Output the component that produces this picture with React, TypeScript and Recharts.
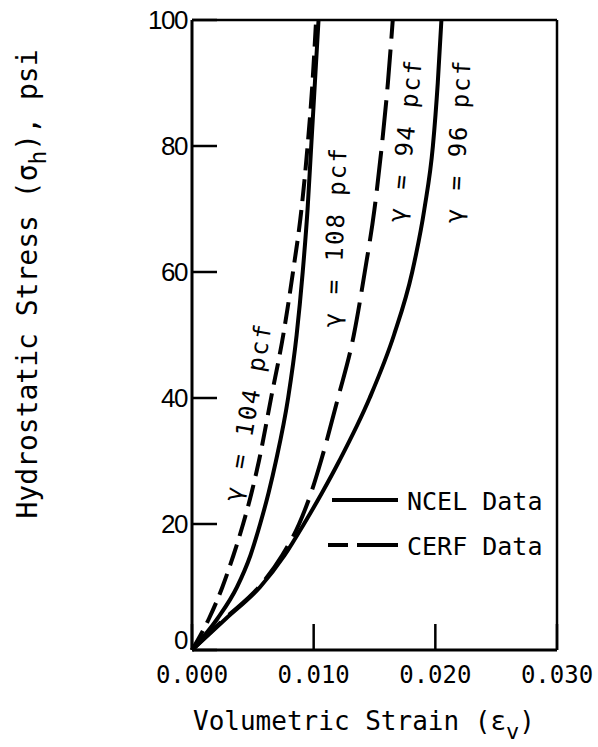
import React from "react";
import { LineChart, Line, XAxis, YAxis, ReferenceLine, ReferenceDot, Legend } from "recharts";

// ── DATA ──────────────────────────────────────────────────────
const STRESS = [0, 5, 10, 15, 20, 25, 30, 40, 50, 60, 70, 80, 90, 100]; // psi
const CERF_104 = [0, 0.0014, 0.0025, 0.0034, 0.0042, 0.0049, 0.0055, 0.0065, 0.0075, 0.0083, 0.009, 0.0095, 0.0099, 0.0102];
const NCEL_108 = [0, 0.0021, 0.0037, 0.0048, 0.0056, 0.0063, 0.0069, 0.0079, 0.0086, 0.0091, 0.0095, 0.0098, 0.0101, 0.0104];
const CERF_94 = [0, 0.0027, 0.0055, 0.0074, 0.0088, 0.0098, 0.0106, 0.012, 0.0133, 0.0142, 0.015, 0.0156, 0.0161, 0.0165];
const NCEL_96 = [0, 0.0028, 0.0056, 0.0076, 0.0092, 0.0107, 0.0121, 0.0146, 0.0166, 0.0181, 0.0191, 0.0198, 0.0202, 0.0205];

const X_TICKS = [0, 0.01, 0.02, 0.03];
const Y_TICKS = [0, 20, 40, 60, 80, 100];

const CURVE_LABELS = [
    { text: "γ = 104 pcf", e: 0.0046, s: 37.8, angle: -80 },
    { text: "γ = 108 pcf", e: 0.01175, s: 65.6, angle: -88 },
    { text: "γ = 94 pcf", e: 0.01751, s: 80.9, angle: -84 },
    { text: "γ = 96 pcf", e: 0.02186, s: 80.8, angle: -87 },
];

const LEGEND_ITEMS = [
    { name: "NCEL Data", dashed: false },
    { name: "CERF Data", dashed: true },
];

// ── STYLE ─────────────────────────────────────────────────────
const MONO = "'DejaVu Sans Mono', 'Liberation Mono', monospace";
const SANS = "'Liberation Sans', Arial, sans-serif";
const INK = "#000";
const LINE_W = 4;

const toRows = (strain: number[]) => strain.map((e, i) => ({ e, s: STRESS[i] }));

// ── TICKS (drawn inward) ──────────────────────────────────────
const XTick = ({ x, y, payload }: any) => (
    <g>
        <line x1={x} y1={y} x2={x} y2={y - 26} stroke={INK} strokeWidth={2.5} />
        <text x={x} y={y + 33} textAnchor="middle" fontFamily={MONO} fontSize={24} fill={INK}>
            {Number(payload.value).toFixed(3)}
        </text>
    </g>
);

const YTick = ({ x, y, payload }: any) => (
    <g>
        <line x1={x} y1={y} x2={x + 25} y2={y} stroke={INK} strokeWidth={2.5} />
        {/* the "0" sits a little above its tick so it clears 0.000 */}
        <text x={x - 5} y={payload.value === 0 ? y - 10 : y} dy="0.36em" textAnchor="end"
            fontFamily={SANS} fontSize={26} letterSpacing={-1.5} fill={INK}>
            {payload.value}
        </text>
    </g>
);

// ── AXIS TITLES ───────────────────────────────────────────────
const XTitle = () => (
    <text x={364} y={730} textAnchor="middle" fontFamily={MONO} fontSize={26} fill={INK}>
        Volumetric Strain (ε<tspan dy={9} fontSize={22}>v</tspan><tspan dy={-9}>)</tspan>
    </text>
);

const YTitle = () => (
    <text transform="translate(37,284) rotate(-90)" textAnchor="middle" fontFamily={MONO} fontSize={28} fill={INK}>
        Hydrostatic Stress (σ<tspan dy={9} fontSize={23}>h</tspan><tspan dy={-9}>), psi</tspan>
    </text>
);

// ── LEGEND ────────────────────────────────────────────────────
const renderLegend = () => (
    <svg width={240} height={90}>
        {LEGEND_ITEMS.map((it, i) => (
            <g key={it.name} transform={`translate(0, ${i * 45})`}>
                <line
                    x1={it.dashed ? 2 : 6} y1={25} x2={72} y2={25}
                    stroke={INK} strokeWidth={LINE_W}
                    strokeDasharray={it.dashed ? "20 9 60" : undefined}
                />
                <text x={81} y={35} fontFamily={MONO} fontSize={25} fill={INK}>{it.name}</text>
            </g>
        ))}
    </svg>
);

const curveLabel = (text: string, angle: number) => ({ viewBox }: any) => {
    const cx = viewBox.x + viewBox.width / 2;
    const cy = viewBox.y + viewBox.height / 2;
    return (
        <text
            x={cx} y={cy} dy="0.35em" textAnchor="middle"
            transform={`rotate(${angle} ${cx} ${cy})`}
            fontFamily={MONO} fontSize={24} letterSpacing={2} fill={INK}
        >
            {text}
        </text>
    );
};

export default function App() {
    return (
        <div style={{ position: "absolute", left: 0, top: 0, width: 598, height: 747, background: "#fff" }}>
            <LineChart width={598} height={747} margin={{ top: 20, right: 41, bottom: 0, left: 0 }}>
                <XAxis
                    type="number" dataKey="e" domain={[0, 0.03]} ticks={X_TICKS}
                    height={97} tickSize={0} tickMargin={0} tickLine={false}
                    tick={<XTick />}
                    axisLine={{ stroke: INK, strokeWidth: 3 }}
                    label={<XTitle />}
                />
                <YAxis
                    type="number" domain={[0, 100]} ticks={Y_TICKS}
                    width={192} tickSize={0} tickMargin={0} tickLine={false}
                    tick={<YTick />}
                    axisLine={{ stroke: INK, strokeWidth: 3 }}
                    label={<YTitle />}
                />
                <ReferenceLine y={100} stroke={INK} strokeWidth={2.5} />
                <ReferenceLine x={0.03} stroke={INK} strokeWidth={2.5} />

                <Line data={toRows(CERF_104)} dataKey="s" name="γ = 104 pcf" type="monotone"
                    stroke={INK} strokeWidth={LINE_W} strokeDasharray="22 9" dot={false} isAnimationActive={false} />
                <Line data={toRows(NCEL_108)} dataKey="s" name="γ = 108 pcf" type="monotone"
                    stroke={INK} strokeWidth={LINE_W} dot={false} isAnimationActive={false} />
                <Line data={toRows(CERF_94)} dataKey="s" name="γ = 94 pcf" type="monotone"
                    stroke={INK} strokeWidth={LINE_W} strokeDasharray="40 11" dot={false} isAnimationActive={false} />
                <Line data={toRows(NCEL_96)} dataKey="s" name="γ = 96 pcf" type="monotone"
                    stroke={INK} strokeWidth={LINE_W} dot={false} isAnimationActive={false} />

                {CURVE_LABELS.map((l) => (
                    <ReferenceDot key={l.text} x={l.e} y={l.s} r={1} fill="none" stroke="none"
                        label={{ content: curveLabel(l.text, l.angle) }} />
                ))}

                <Legend
                    content={renderLegend}
                    verticalAlign="middle" align="center"
                    wrapperStyle={{ left: 326, top: 475, width: 240, height: 90 }}
                />
            </LineChart>
        </div>
    );
}
